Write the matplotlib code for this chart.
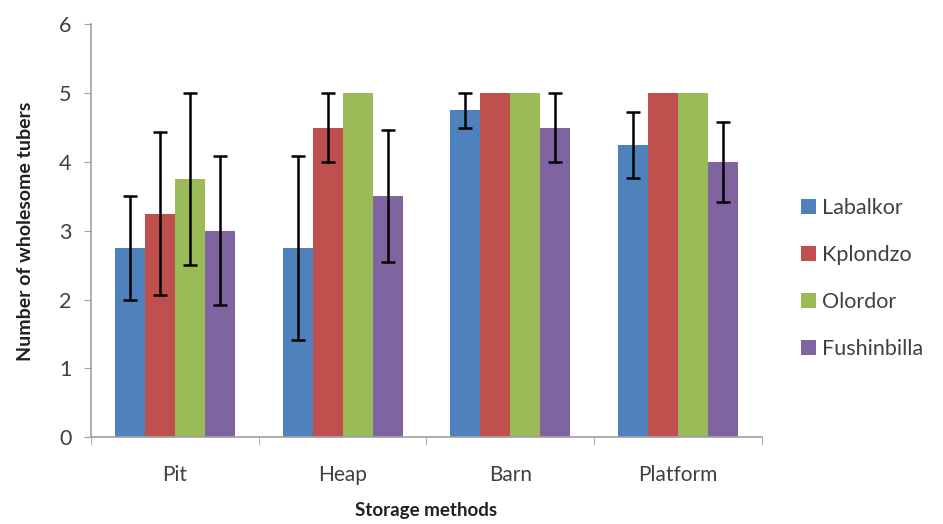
import numpy as np
import matplotlib
matplotlib.use("Agg")
import matplotlib.pyplot as plt
from matplotlib.ticker import FixedLocator, NullFormatter

# Data
methods = ["Pit", "Heap", "Barn", "Platform"]
varieties = ["Labalkor", "Kplondzo", "Olordor", "Fushinbilla"]

labalkor = [2.75, 2.75, 4.75, 4.25]
kplondzo = [3.25, 4.5, 5.0, 5.0]
olordor = [3.75, 5.0, 5.0, 5.0]
fushinbilla = [3.0, 3.5, 4.5, 4.0]

labalkor_err = [0.75, 1.33, 0.25, 0.48]
kplondzo_err = [1.18, 0.5, 0.0, 0.0]
olordor_err = [1.25, 0.0, 0.0, 0.0]
fushinbilla_err = [1.08, 0.96, 0.5, 0.58]

colors = ["#4F81BD", "#C0504D", "#9BBB59", "#8064A2"]

plt.rcParams["font.family"] = ["Lato", "DejaVu Sans"]

fig = plt.figure(figsize=(9.43, 5.24), dpi=100)
ax = fig.add_axes([0.0965, 0.1655, 0.7115, 0.788])

series = [labalkor, kplondzo, olordor, fushinbilla]
errs = [labalkor_err, kplondzo_err, olordor_err, fushinbilla_err]
x = np.arange(len(methods))
width = 0.179

for i, (vals, err) in enumerate(zip(series, errs)):
    pos = x + (i - 1.5) * width
    ax.bar(pos, vals, width, color=colors[i], label=varieties[i], zorder=2)
    # only draw bars that have an error value
    mask = np.array(err) > 0
    ax.errorbar(pos[mask], np.array(vals)[mask], yerr=np.array(err)[mask],
                fmt="none", ecolor="black", elinewidth=1.8, capsize=5,
                capthick=1.8, zorder=3)

ax.set_xlim(-0.5, len(methods) - 0.5)
ax.set_ylim(0, 6)
ax.set_yticks(range(0, 7))
ax.tick_params(axis="y", labelsize=15.5, colors="#404040", length=5,
               color="#a0a0a0", pad=9)

# Excel style: ticks between categories, labels at centres
ax.set_xticks(x)
ax.set_xticklabels(methods)
ax.tick_params(axis="x", which="major", length=0, labelsize=15,
               labelcolor="#404040", pad=20)
ax.xaxis.set_minor_locator(FixedLocator(np.arange(-0.5, len(methods), 1)))
ax.xaxis.set_minor_formatter(NullFormatter())
ax.tick_params(axis="x", which="minor", length=6, color="#a0a0a0")

for s in ["top", "right"]:
    ax.spines[s].set_visible(False)
for s in ["left", "bottom"]:
    ax.spines[s].set_color("#a0a0a0")
    ax.spines[s].set_linewidth(1.2)

ax.set_xlabel("Storage methods", fontsize=13.5, fontweight="bold",
              color="#202020", labelpad=12)
ax.set_ylabel("Number of wholesome tubers", fontsize=14, fontweight="bold",
              color="#202020", labelpad=18)

leg = ax.legend(loc="center left", bbox_to_anchor=(1.0, 0.385), frameon=False,
                fontsize=15.5, handlelength=0.7, handleheight=0.7,
                handletextpad=0.3, labelspacing=1.25, borderaxespad=1.4)
for t in leg.get_texts():
    t.set_color("#404040")

fig.savefig("out.png", dpi=100)
